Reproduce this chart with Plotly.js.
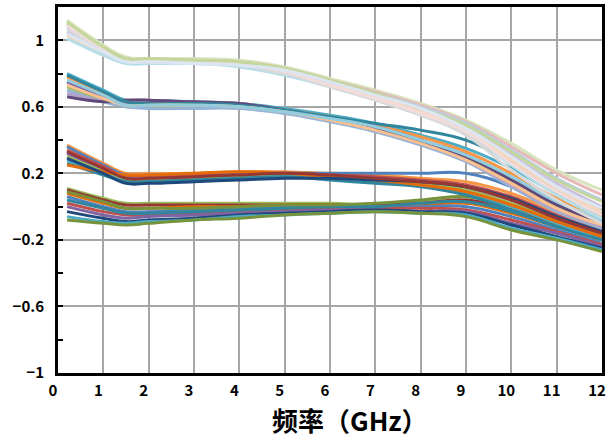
<!DOCTYPE html>
<html><head><meta charset="utf-8">
<script src="https://cdn.plot.ly/plotly-3.0.1.min.js"></script>
<style>html,body{margin:0;padding:0;background:#fff}#chart{width:608px;height:439px}</style>
</head><body><div id="chart"></div>
<script>
// Frequency points (GHz)
const freq = [0.2, 1, 1.5, 2, 3, 4, 5, 6, 7, 8, 9, 10, 11, 12];
const xTicks = [0,1,2,3,4,5,6,7,8,9,10,11,12];
const yTicks = [-1, -0.6, -0.2, 0.2, 0.6, 1];
const yTickText = ['−1', '−0.6', '−0.2', '0.2', '0.6', '1'];
const xTitle = '频率（GHz）';

// Band near 0
const d1 = [0.11,0.05,0.02,0.02,0.02,0.02,0.02,0.02,0.01,0.03,0.06,0.00,-0.10,-0.17];
const d2 = [0.10,0.04,0.01,0.01,0.01,0.01,0.01,0.01,0.01,0.02,0.04,-0.02,-0.11,-0.18];
const d3 = [0.08,0.02,-0.01,-0.01,0.00,0.00,0.01,0.01,0.00,0.01,0.02,-0.04,-0.12,-0.20];
const d4 = [0.06,0.00,-0.03,-0.03,-0.02,-0.01,0.00,0.00,0.00,0.00,0.00,-0.06,-0.14,-0.22];
const d5 = [0.02,-0.03,-0.05,-0.05,-0.04,-0.03,-0.02,-0.01,-0.01,-0.01,-0.02,-0.08,-0.15,-0.23];
const d6 = [0.00,-0.05,-0.07,-0.06,-0.05,-0.04,-0.03,-0.02,-0.02,-0.03,-0.03,-0.10,-0.16,-0.24];
const d7 = [-0.03,-0.07,-0.09,-0.08,-0.07,-0.05,-0.04,-0.03,-0.02,-0.03,-0.04,-0.11,-0.18,-0.25];
const d8 = [-0.06,-0.09,-0.10,-0.09,-0.08,-0.06,-0.05,-0.04,-0.03,-0.04,-0.05,-0.13,-0.19,-0.26];
const d9 = [-0.08,-0.10,-0.11,-0.10,-0.08,-0.07,-0.05,-0.04,-0.03,-0.04,-0.06,-0.14,-0.20,-0.27];
const d10 = [0.04,-0.01,-0.04,-0.04,-0.03,-0.02,-0.01,0.00,0.00,0.02,0.03,-0.03,-0.12,-0.19];
const d11 = [0.09,0.03,-0.01,-0.01,-0.01,0.00,0.01,0.01,0.02,0.04,0.06,0.01,-0.10,-0.16];

// Band near 0.2
const c1 = [0.37,0.26,0.20,0.20,0.20,0.21,0.21,0.20,0.19,0.17,0.15,0.08,-0.03,-0.12];
const c2 = [0.36,0.25,0.19,0.19,0.19,0.20,0.20,0.20,0.20,0.20,0.20,0.12,-0.01,-0.13];
const c3 = [0.34,0.24,0.18,0.18,0.19,0.19,0.20,0.19,0.18,0.16,0.13,0.06,-0.05,-0.14];
const c4 = [0.32,0.22,0.17,0.17,0.17,0.18,0.19,0.18,0.17,0.15,0.11,0.04,-0.07,-0.16];
const c5 = [0.30,0.21,0.16,0.16,0.17,0.18,0.19,0.18,0.16,0.14,0.10,0.02,-0.08,-0.17];
const c6 = [0.28,0.20,0.15,0.15,0.16,0.17,0.18,0.17,0.15,0.13,0.08,0.00,-0.10,-0.19];
const c7 = [0.26,0.19,0.15,0.15,0.16,0.17,0.18,0.16,0.14,0.12,0.07,-0.02,-0.12,-0.20];
const c8 = [0.25,0.21,0.19,0.19,0.20,0.21,0.20,0.18,0.16,0.13,0.09,0.01,-0.09,-0.18];
const c9 = [0.29,0.20,0.14,0.14,0.15,0.16,0.17,0.17,0.16,0.15,0.12,0.05,-0.06,-0.15];
const c10 = [0.33,0.23,0.17,0.17,0.18,0.19,0.20,0.19,0.17,0.15,0.12,0.04,-0.07,-0.16];

// Band near 0.6
const b1 = [0.80,0.70,0.64,0.63,0.63,0.62,0.59,0.55,0.50,0.43,0.35,0.23,0.08,-0.04];
const b2 = [0.78,0.68,0.63,0.62,0.62,0.61,0.58,0.54,0.49,0.42,0.33,0.20,0.05,-0.06];
const b3 = [0.75,0.66,0.62,0.62,0.61,0.61,0.58,0.53,0.48,0.40,0.31,0.17,0.02,-0.09];
const b4 = [0.72,0.64,0.60,0.60,0.60,0.60,0.57,0.52,0.47,0.39,0.29,0.15,0.00,-0.11];
const b5 = [0.70,0.63,0.60,0.59,0.59,0.59,0.56,0.51,0.45,0.37,0.27,0.12,-0.03,-0.13];
const b6 = [0.68,0.64,0.64,0.64,0.63,0.62,0.58,0.52,0.46,0.38,0.28,0.13,-0.02,-0.12];
const b7 = [0.66,0.63,0.64,0.64,0.63,0.62,0.58,0.53,0.47,0.39,0.30,0.16,0.01,-0.10];
const b8 = [0.79,0.69,0.63,0.62,0.62,0.61,0.58,0.54,0.50,0.46,0.40,0.27,0.10,-0.02];
const b9 = [0.73,0.65,0.61,0.61,0.61,0.60,0.57,0.52,0.46,0.38,0.28,0.14,-0.01,-0.11];
const b10 = [0.76,0.67,0.61,0.61,0.61,0.60,0.57,0.53,0.48,0.40,0.31,0.18,0.03,-0.08];

// Band near 0.9
const a1 = [1.12,0.97,0.90,0.89,0.89,0.88,0.84,0.77,0.70,0.62,0.52,0.38,0.22,0.10];
const a2 = [1.10,0.95,0.89,0.88,0.88,0.87,0.83,0.76,0.69,0.61,0.51,0.36,0.20,0.07];
const a3 = [1.08,0.94,0.88,0.88,0.87,0.86,0.82,0.75,0.68,0.60,0.50,0.34,0.17,0.04];
const a4 = [1.05,0.93,0.88,0.87,0.87,0.86,0.81,0.74,0.67,0.58,0.48,0.31,0.14,0.00];
const a5 = [1.03,0.92,0.87,0.87,0.86,0.85,0.80,0.73,0.66,0.57,0.46,0.28,0.11,-0.03];
const a6 = [1.01,0.91,0.86,0.86,0.86,0.84,0.79,0.72,0.64,0.55,0.44,0.25,0.07,-0.07];
const a7 = [1.07,0.94,0.88,0.87,0.87,0.85,0.80,0.72,0.64,0.55,0.43,0.22,0.04,-0.10];
const a8 = [1.09,0.95,0.89,0.88,0.87,0.86,0.81,0.73,0.65,0.56,0.45,0.26,0.09,-0.05];
const a9 = [1.11,0.96,0.89,0.89,0.88,0.87,0.83,0.76,0.68,0.59,0.49,0.33,0.16,0.03];
const a10 = [1.04,0.93,0.87,0.87,0.86,0.85,0.82,0.75,0.67,0.59,0.47,0.30,0.12,-0.01];

const bandD = [d1,d2,d3,d4,d5,d6,d7,d8,d9,d10,d11];
const bandC = [c1,c2,c3,c4,c5,c6,c7,c8,c9,c10];
const bandB = [b1,b2,b3,b4,b5,b6,b7,b8,b9,b10];
const bandA = [a1,a2,a3,a4,a5,a6,a7,a8,a9,a10];

const colD = ['#9BBB59','#953735','#E46C0A','#4F81BD','#C0504D','#8064A2','#1F497D','#4BACC6','#77933C','#31859C','#76923C'];
const colC = ['#F79646','#4F81BD','#C0504D','#8064A2','#9BBB59','#4BACC6','#31859C','#E46C0A','#1F497D','#953735'];
const colB = ['#4BACC6','#F79646','#8064A2','#9BBB59','#95B3D7','#B3A2C7','#604A7B','#31859C','#FAC090','#93CDDD'];
const colA = ['#D7E4BD','#E6B9B8','#B9CDE5','#CCC1DA','#FCD5B5','#B7DEE8','#D9D9D9','#F2DCDB','#C3D69B','#DCE6F2'];

const traces = [];
function addBand(band, cols){
  band.forEach((ys,i)=>traces.push({x:freq,y:ys,type:'scatter',mode:'lines',
    line:{color:cols[i%cols.length],width:3,shape:'spline',smoothing:1.2},hoverinfo:'skip',showlegend:false}));
}
addBand(bandD,colD); addBand(bandC,colC); addBand(bandB,colB); addBand(bandA,colA);

const fnt = {family:'"Noto Sans CJK SC", "DejaVu Sans", sans-serif', size:15, color:'#000', weight:'bold'};
const layout = {
  width:608, height:439,
  margin:{l:58,r:6,t:7,b:66},
  paper_bgcolor:'#fff', plot_bgcolor:'#fff',
  showlegend:false,
  xaxis:{range:[0,12], tickvals:xTicks, ticktext:xTicks.map(String),
    showgrid:true, gridcolor:'#A6A6A6', gridwidth:2,
    showline:true, linecolor:'#000', linewidth:3, mirror:true,
    ticks:'', zeroline:false, tickfont:fnt, ticklabelstandoff:2, ticklabelshift:-5, ticklabeloverflow:'allow'},
  yaxis:{range:[-1,1.2], tickvals:yTicks, ticktext:yTickText,
    showgrid:true, gridcolor:'#A6A6A6', gridwidth:2,
    showline:true, linecolor:'#000', linewidth:3, mirror:true,
    ticks:'inside', ticklen:5, tickwidth:2, tickcolor:'#000', zeroline:false, tickfont:fnt, ticklabelstandoff:8,
    minor:{tickvals:[-0.8,-0.4,0,0.4,0.8], ticks:'inside', ticklen:5, tickwidth:2, tickcolor:'#000', showgrid:false}},
  annotations:[{text:xTitle, xref:'paper', yref:'paper', x:0.537, y:-0.128, xanchor:'center', yanchor:'middle',
    showarrow:false, borderpad:0, font:{family:'"Noto Sans CJK SC", sans-serif', size:26, color:'#000', weight:'bold'}}]
};
Plotly.newPlot('chart', traces, layout, {displayModeBar:false, staticPlot:true});
</script></body></html>
